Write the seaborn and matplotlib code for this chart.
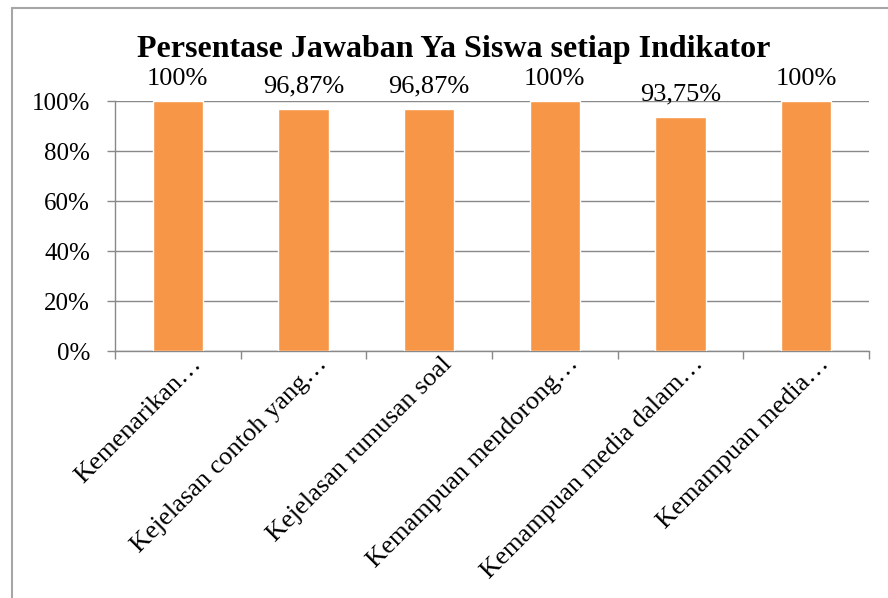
import matplotlib
matplotlib.use("Agg")
import matplotlib.pyplot as plt
from matplotlib.lines import Line2D
from matplotlib.ticker import FixedLocator, FuncFormatter
from matplotlib import transforms
import seaborn as sns
import pandas as pd

# Indicators (as displayed on the category axis) and the share of "Ya" answers
indikator = [
    "Kemenarikan…",
    "Kejelasan contoh yang…",
    "Kejelasan rumusan soal",
    "Kemampuan mendorong…",
    "Kemampuan media dalam…",
    "Kemampuan media…",
]
persentase = [100, 96.87, 96.87, 100, 93.75, 100]
y_ticks = [0, 20, 40, 60, 80, 100]

df = pd.DataFrame({"indikator": indikator, "persentase": persentase})

sns.set_theme(style="white")
plt.rcParams["font.family"] = ["Liberation Serif", "DejaVu Serif"]

W, H = 888, 598
fig = plt.figure(figsize=(W / 100, H / 100), dpi=100)
ax = fig.add_axes([115 / W, 1 - 351 / H, (869 - 115) / W, (351 - 101) / H])

bar_color = "#F79646"
grid_color = "#898989"

sns.barplot(data=df, x="indikator", y="persentase", color=bar_color,
            width=0.4, saturation=1, ax=ax, zorder=3)

ax.set_xlim(-0.5, len(indikator) - 0.5)
ax.set_ylim(0, 100)
ax.set_xlabel("")
ax.set_ylabel("")

# horizontal gridlines at every 20%
ax.yaxis.set_major_locator(FixedLocator(y_ticks))
ax.yaxis.set_major_formatter(FuncFormatter(lambda v, p: f"{v:.0f}%"))
ax.grid(axis="y", color=grid_color, linewidth=1.0, zorder=0)
ax.grid(axis="x", visible=False)
ax.set_axisbelow(True)

for side in ("top", "right"):
    ax.spines[side].set_visible(False)
for side in ("left", "bottom"):
    ax.spines[side].set_color(grid_color)
    ax.spines[side].set_linewidth(1.0)

ax.tick_params(axis="y", which="major", direction="out", length=6, width=1.0,
               color=grid_color, labelsize=18, pad=12, left=True)
ax.tick_params(axis="x", which="major", length=0, labelsize=19, pad=0)
# category boundary ticks on the x axis
ax.xaxis.set_minor_locator(FixedLocator([i - 0.5 for i in range(len(indikator) + 1)]))
ax.tick_params(axis="x", which="minor", direction="out", length=6, width=1.0,
               color=grid_color, bottom=True)

# rotated category labels: text end sits just right of and below the category centre
shift = transforms.ScaledTranslation(0.24, -0.14, fig.dpi_scale_trans)
for lbl in ax.get_xticklabels():
    lbl.set_rotation(45)
    lbl.set_ha("right")
    lbl.set_va("baseline")
    lbl.set_rotation_mode("anchor")
    lbl.set_transform(lbl.get_transform() + shift)

for lbl in ax.get_xticklabels() + ax.get_yticklabels():
    lbl.set_color("black")

# value labels above each bar
labels = [f"{v:g}".replace(".", ",") + "%" for v in persentase]
ax.bar_label(ax.containers[0], labels=labels, padding=8, fontsize=19, color="black")

fig.text(454 / W, 1 - 57 / H, "Persentase Jawaban Ya Siswa setiap Indikator",
         ha="center", va="baseline", fontsize=23, fontweight="bold", color="black")

# outer frame of the chart area (left and top edges)
frame_color = "#A6A6A6"
fig.add_artist(Line2D([12 / W, 12 / W], [0, 1 - 8 / H], transform=fig.transFigure,
                      color=frame_color, linewidth=1.5))
fig.add_artist(Line2D([12 / W, 1], [1 - 8 / H, 1 - 8 / H], transform=fig.transFigure,
                      color=frame_color, linewidth=1.5))

fig.savefig("out.png", dpi=100, facecolor="white")
